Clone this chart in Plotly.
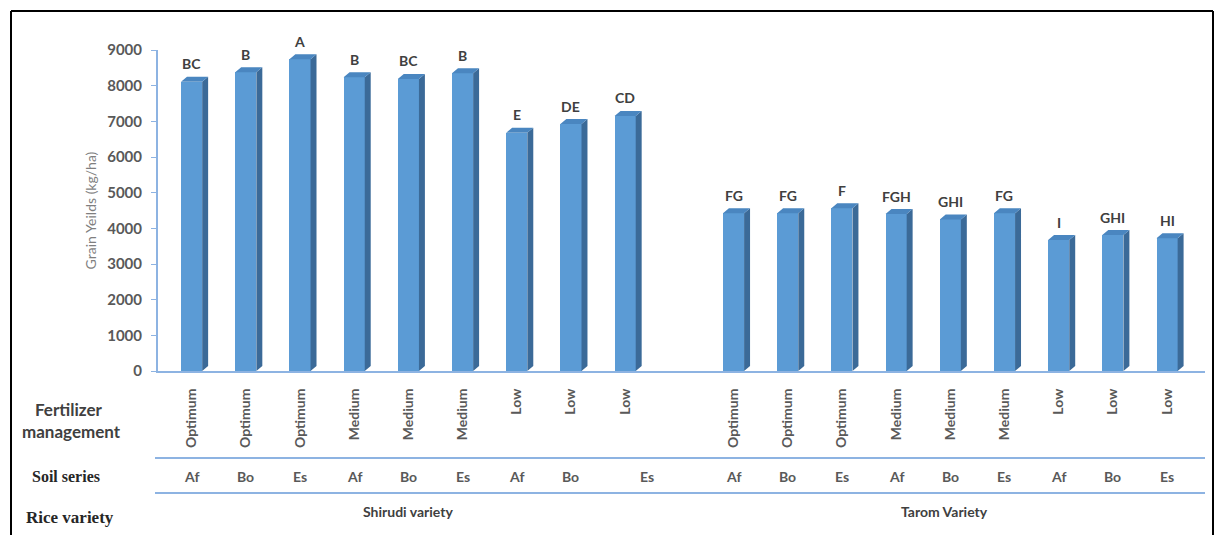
import plotly.graph_objects as go

# Grain yield (kg/ha) per treatment, with significance letters
shirudi_yield = [8110, 8375, 8740, 8235, 8190, 8345, 6680, 6925, 7150]
tarom_yield = [4420, 4420, 4560, 4400, 4250, 4420, 3670, 3810, 3720]
shirudi_letters = ["BC", "B", "A", "B", "BC", "B", "E", "DE", "CD"]
tarom_letters = ["FG", "FG", "F", "FGH", "GHI", "FG", "I", "GHI", "HI"]
fertilizer = ["Optimum", "Optimum", "Optimum", "Medium", "Medium", "Medium", "Low", "Low", "Low"]
soil = ["Af", "Bo", "Es", "Af", "Bo", "Es", "Af", "Bo", "Es"]
varieties = ["Shirudi variety", "Tarom Variety"]
y_ticks = [0, 1000, 2000, 3000, 4000, 5000, 6000, 7000, 8000, 9000]

# slot positions: 9 Shirudi bars, one empty slot, 9 Tarom bars
shirudi_x = list(range(9))
tarom_x = list(range(10, 19))
xs = shirudi_x + tarom_x
ys = shirudi_yield + tarom_yield
letters = shirudi_letters + tarom_letters

W, H = 1218, 535
L, R, T, B = 158, 13, 50, 164
PW, PH = W - L - R, H - T - B
YMAX = 9000
XMIN, XMAX = -0.62, 18.70

FRONT = "#5b9bd5"
SIDE = "#3b6a98"
TOP = "#4a86c0"
AXIS = "#8db3e2"
SANS = "Lato, 'Open Sans', sans-serif"
SERIF = "'Liberation Serif', 'DejaVu Serif', serif"

bar_w = 0.39
depth_x = 0.11
depth_y = 5 / PH * YMAX


def px_x(px):
    return (px - L) / PW


def px_y(py):
    return (H - B - py) / PH


fig = go.Figure()

# front faces
fig.add_trace(go.Bar(
    x=xs, y=ys, width=bar_w, marker=dict(color=FRONT, line=dict(width=0)),
    hoverinfo="skip", showlegend=False,
))

# side and top faces of each 3D column
side_x, side_y, top_x, top_y = [], [], [], []
for x, v in zip(xs, ys):
    xl, xr = x - bar_w / 2, x + bar_w / 2
    side_x += [xr, xr + depth_x, xr + depth_x, xr, xr, None]
    side_y += [0, depth_y, v + depth_y, v, 0, None]
    top_x += [xl, xl + depth_x, xr + depth_x, xr, xl, None]
    top_y += [v, v + depth_y, v + depth_y, v, v, None]

fig.add_trace(go.Scatter(
    x=side_x, y=side_y, fill="toself", fillcolor=SIDE, mode="lines",
    line=dict(width=0, color=SIDE), hoverinfo="skip", showlegend=False,
))
fig.add_trace(go.Scatter(
    x=top_x, y=top_y, fill="toself", fillcolor=TOP, mode="lines",
    line=dict(width=0, color=TOP), hoverinfo="skip", showlegend=False,
))

annotations = []
# significance letters above the bars
for x, v, t in zip(xs, ys, letters):
    annotations.append(dict(
        x=x, y=v, xref="x", yref="y", text=t, showarrow=False,
        xanchor="center", yanchor="middle", yshift=18,
        font=dict(family=SANS, size=14, color="#404040", weight="bold"),
    ))

# soil series row
soil_x = shirudi_x[:8] + [8.4] + tarom_x
for x, t in zip(soil_x, soil + soil):
    annotations.append(dict(
        x=x, y=px_y(476), xref="x", yref="paper", text=t, showarrow=False,
        xanchor="center", yanchor="middle",
        font=dict(family=SANS, size=14, color="#595959", weight="bold"),
    ))

# variety row
for x, t in zip([4, 13.9], varieties):
    annotations.append(dict(
        x=x, y=px_y(511), xref="x", yref="paper", text=t, showarrow=False,
        xanchor="center", yanchor="middle",
        font=dict(family=SANS, size=14, color="#404040", weight="bold"),
    ))

# row headers
hdr = dict(xref="paper", yref="paper", showarrow=False,
           xanchor="center", yanchor="middle")
annotations += [
    dict(hdr, x=px_x(68), y=px_y(409), text="Fertilizer",
         font=dict(family=SANS, size=17, color="#404040", weight="bold")),
    dict(hdr, x=px_x(71), y=px_y(432), text="management",
         font=dict(family=SANS, size=17, color="#404040", weight="bold")),
    dict(hdr, x=px_x(66), y=px_y(476), text="Soil series",
         font=dict(family=SERIF, size=16, color="#262626", weight="bold")),
    dict(hdr, x=px_x(70), y=px_y(517), text="Rice variety",
         font=dict(family=SERIF, size=17, color="#262626", weight="bold")),
]

shapes = [
    # separator lines between label rows
    dict(type="line", xref="paper", yref="paper", x0=px_x(155), x1=px_x(1205),
         y0=px_y(458), y1=px_y(458), line=dict(color=AXIS, width=2)),
    dict(type="line", xref="paper", yref="paper", x0=px_x(155), x1=px_x(1205),
         y0=px_y(493), y1=px_y(493), line=dict(color=AXIS, width=2)),
    # outer frame
    dict(type="line", xref="paper", yref="paper", x0=px_x(11), x1=px_x(11),
         y0=px_y(11), y1=px_y(540), line=dict(color="black", width=2)),
    dict(type="line", xref="paper", yref="paper", x0=px_x(11), x1=px_x(1213),
         y0=px_y(11), y1=px_y(11), line=dict(color="black", width=2)),
    dict(type="line", xref="paper", yref="paper", x0=px_x(1213), x1=px_x(1213),
         y0=px_y(11), y1=px_y(540), line=dict(color="black", width=2)),
]

fig.update_layout(
    width=W, height=H,
    margin=dict(l=L, r=R, t=T, b=B, autoexpand=False),
    plot_bgcolor="white", paper_bgcolor="white",
    bargap=0, showlegend=False,
    annotations=annotations, shapes=shapes,
    xaxis=dict(
        range=[XMIN, XMAX], tickmode="array", tickvals=xs,
        ticktext=fertilizer + fertilizer, tickangle=-90, ticks="",
        ticklabelstandoff=10,
        tickfont=dict(family=SANS, size=14, color="#595959", weight="bold"),
        showgrid=False, zeroline=False, showline=True, linecolor=AXIS, linewidth=2,
        fixedrange=True,
    ),
    yaxis=dict(
        range=[0, YMAX], tickmode="array", tickvals=y_ticks,
        ticks="outside", ticklen=5, tickcolor=AXIS, tickwidth=1,
        ticklabelstandoff=6,
        tickfont=dict(family=SANS, size=15, color="#595959", weight="bold"),
        showgrid=False, zeroline=False, showline=True, linecolor=AXIS, linewidth=2,
        title=dict(text="Grain Yeilds (kg/ha)", standoff=7,
                   font=dict(family=SANS, size=14, color="#7f7f7f")),
        fixedrange=True,
    ),
)

fig.write_html("out.html")
